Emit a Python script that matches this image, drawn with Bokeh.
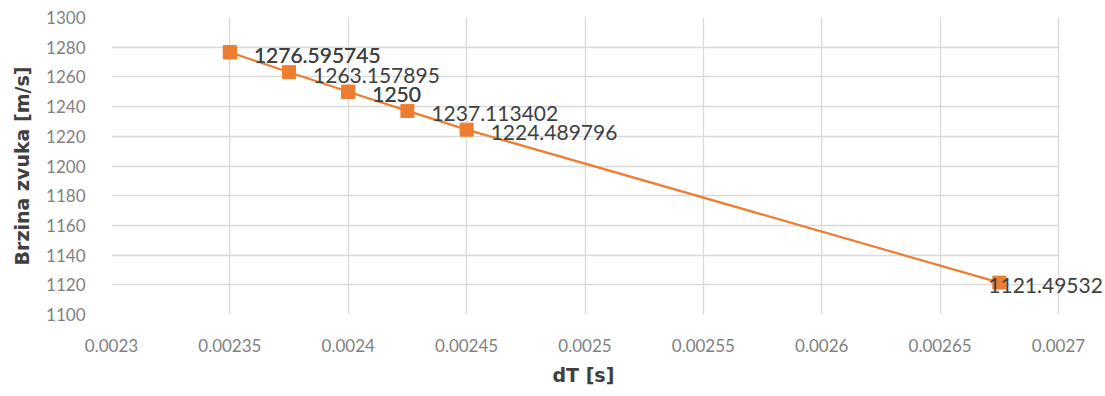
from bokeh.plotting import figure
from bokeh.models import ColumnDataSource, FixedTicker, CustomJSTickFormatter, Range1d, Label, Title
from bokeh.embed import file_html
from bokeh.resources import INLINE

# Data
dT = [0.00235, 0.00235, 0.002375, 0.0024, 0.0024, 0.002425, 0.00245, 0.002675]
speed = [1276.595745, 1276.595745, 1263.157895, 1250, 1250, 1237.113402, 1224.489796, 1121.49532]
point_labels = ["1276.595745", "1276.595745", "1263.157895", "1250", "1250",
                "1237.113402", "1224.489796", "1121.49532"]
x_ticks = [0.0023, 0.00235, 0.0024, 0.00245, 0.0025, 0.00255, 0.0026, 0.00265, 0.0027]
y_ticks = [1100, 1120, 1140, 1160, 1180, 1200, 1220, 1240, 1260, 1280, 1300]
x_title = "dT [s]"
y_title = "Brzina zvuka [m/s]"

FONT = "Lato"
TITLE_FONT = "DejaVu Sans"
ORANGE = "#ED7D31"
GRID = "#D9D9D9"

# the plot area ends at 0.0027; the frame is widened a little to the right so that
# the last data label may run past the last gridline, as in the original
x_lo, x_hi = x_ticks[0], x_ticks[-1]
extra = (x_hi - x_lo) * 47 / 947

p = figure(width=1105, height=396, output_backend="svg", toolbar_location=None,
           x_range=Range1d(x_lo, x_hi + extra), y_range=Range1d(y_ticks[0], y_ticks[-1]),
           min_border_left=111, min_border_right=0, min_border_top=17, min_border_bottom=82)
p.outline_line_color = None
p.background_fill_color = "white"
p.border_fill_color = "white"

p.xgrid.grid_line_color = GRID
p.xgrid.grid_line_width = 1.3
try:
    p.ygrid.cross_bounds = (x_lo, x_hi)
    p.ygrid.grid_line_color = GRID
    p.ygrid.grid_line_width = 1.3
except Exception:
    p.ygrid.grid_line_color = None
    p.segment(x0=[x_lo] * len(y_ticks), x1=[x_hi] * len(y_ticks), y0=y_ticks, y1=y_ticks,
              line_color=GRID, line_width=1.3, level="underlay")

src_all = ColumnDataSource(dict(x=dT, y=speed))

p.line("x", "y", source=src_all, line_color=ORANGE, line_width=2.2)
p.scatter("x", "y", source=src_all, marker="square", size=13, fill_color=ORANGE, line_color=ORANGE)

n = len(dT)
for i, (xv, yv, t) in enumerate(zip(dT, speed, point_labels)):
    last = (i == n - 1)
    p.add_layout(Label(x=xv, y=yv, text=t,
                       x_offset=-11 if last else 24, y_offset=-3,
                       text_baseline="middle", text_align="left", text_font=FONT,
                       text_font_size="21px", text_color="#404040"))

for ax in (p.xaxis[0], p.yaxis[0]):
    ax.axis_line_color = None
    ax.major_tick_line_color = None
    ax.minor_tick_line_color = None
    ax.major_label_text_font = FONT
    ax.major_label_text_font_size = "17px"
    ax.major_label_text_color = "#7F7F7F"
    ax.axis_label_text_font = TITLE_FONT
    ax.axis_label_text_font_size = "19px"
    ax.axis_label_text_font_style = "bold"
    ax.axis_label_text_color = "#404040"

p.xaxis.ticker = FixedTicker(ticks=x_ticks)
p.xaxis.formatter = CustomJSTickFormatter(code="return String(Number(tick.toPrecision(6)));")
p.yaxis.ticker = FixedTicker(ticks=y_ticks)
p.yaxis.axis_label = y_title
p.xaxis.major_label_standoff = 18
p.yaxis.major_label_standoff = 20
p.yaxis.axis_label_standoff = 10

# x-axis title, centred under the 0.0023..0.0027 plot area rather than the widened frame
p.add_layout(Title(text=x_title, align="left", offset=441, standoff=14,
                   text_font=TITLE_FONT, text_font_size="19px", text_font_style="bold",
                   text_color="#404040"), "below")

open("out.html", "w").write(file_html(p, INLINE))
